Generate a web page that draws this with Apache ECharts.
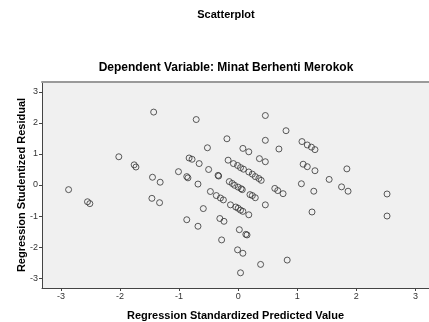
<!DOCTYPE html>
<html>
<head>
<meta charset="utf-8">
<script src="https://cdn.jsdelivr.net/npm/echarts@6/dist/echarts.min.js"></script>
<style>
  html, body { margin: 0; padding: 0; background: #fff; }
  #chart { width: 429px; height: 322px; }
</style>
</head>
<body>
<div id="chart"></div>
<script>
// standardized predicted value (x) and studentized residual (y)
const predicted = [
  -2.87, -2.55, -2.51, -2.02, -1.76, -1.73, -1.45, -1.43, -1.46, -1.33,
  -1.32, -1.01, -0.87, -0.85, -0.87, -0.83, -0.78, -0.71, -0.68, -0.68,
  -0.66, -0.59, -0.52, -0.50, -0.47, -0.37, -0.34, -0.33, -0.30, -0.25,
  -0.31, -0.24, -0.28, -0.19, -0.17, -0.08, -0.01, 0.04, 0.09, -0.15,
  -0.10, -0.06, 0.00, 0.05, 0.07, -0.13, -0.04, 0.00, 0.04, 0.08,
  0.18, 0.02, 0.13, 0.15, -0.01, 0.08, 0.04, 0.38, 0.08, 0.18,
  0.18, 0.24, 0.29, 0.35, 0.39, 0.20, 0.24, 0.29, 0.36, 0.46,
  0.46, 0.46, 0.46, 0.62, 0.67, 0.76, 0.69, 0.81, 0.83, 1.07,
  1.08, 1.17, 1.24, 1.30, 1.10, 1.17, 1.30, 1.28, 1.25, 1.54,
  1.75, 1.86, 1.84, 2.52, 2.52
];
const residual = [
  -0.15, -0.54, -0.60, 0.91, 0.65, 0.58, 0.25, 2.35, -0.43, -0.57,
  0.09, 0.43, 0.27, 0.23, -1.12, 0.87, 0.83, 2.11, 0.03, -1.33,
  0.69, -0.76, 1.20, 0.50, -0.21, -0.34, 0.31, 0.29, -0.42, -0.48,
  -1.08, -1.17, -1.77, 1.49, 0.80, 0.69, 0.63, 0.56, 0.51, 0.11,
  0.05, -0.01, -0.07, -0.12, -0.15, -0.64, -0.71, -0.75, -0.81, -0.85,
  -0.96, -1.44, -1.59, -1.61, -2.09, -2.20, -2.83, -2.56, 1.18, 1.07,
  0.42, 0.35, 0.27, 0.21, 0.15, -0.31, -0.34, -0.41, 0.85, 0.75,
  2.24, 1.44, -0.64, -0.11, -0.18, -0.28, 1.16, 1.75, -2.42, 0.04,
  1.40, 1.29, 1.22, 1.14, 0.67, 0.59, 0.46, -0.20, -0.87, 0.18,
  -0.06, -0.20, 0.52, -0.29, -1.00
];
const tickValues = [-3, -2, -1, 0, 1, 2, 3];

const points = predicted.map((x, i) => [x, residual[i]]);

const chart = echarts.init(document.getElementById('chart'));

const axisCommon = {
  type: 'value',
  splitLine: { show: false },
  axisLine: { show: true, onZero: false, lineStyle: { color: '#444', width: 1 } },
  axisTick: { show: true, length: 3, lineStyle: { color: '#444' }, customValues: tickValues },
  axisLabel: { fontSize: 9, color: '#333', fontFamily: 'Liberation Sans', margin: 4, customValues: tickValues },
  nameLocation: 'middle',
  nameTextStyle: { fontSize: 11, fontWeight: 'bold', color: '#000', fontFamily: 'Liberation Sans' },
};

chart.setOption({
  animation: false,
  title: [
    {
      text: 'Scatterplot',
      left: 221, top: 4, textAlign: 'center',
      textStyle: { fontSize: 11, fontWeight: 'bold', color: '#000', fontFamily: 'Liberation Sans' },
    },
    {
      text: 'Dependent Variable: Minat Berhenti Merokok',
      left: 221, top: 57, textAlign: 'center',
      textStyle: { fontSize: 12, fontWeight: 'bold', color: '#000', fontFamily: 'Liberation Sans' },
    },
  ],
  grid: {
    left: 42, right: 0, top: 82, bottom: 34,
    outerBoundsMode: 'none',
    show: true, backgroundColor: '#F0F0F0', borderWidth: 0,
  },
  xAxis: [
    {
      ...axisCommon,
      min: -3.32, max: 3.23,
      name: 'Regression Standardized Predicted Value',
      nameGap: 22,
    },
    {
      // grey frame line along the top of the plot
      type: 'value', position: 'top',
      min: -3.32, max: 3.23,
      axisLine: { show: true, onZero: false, lineStyle: { color: '#9A9A9A', width: 2 } },
      axisTick: { show: false }, axisLabel: { show: false }, splitLine: { show: false },
    },
  ],
  yAxis: {
    ...axisCommon,
    min: -3.32, max: 3.32,
    name: 'Regression Studentized Residual',
    nameGap: 15,
    nameMoveOverlap: false,
  },
  series: [{
    type: 'scatter',
    data: points,
    symbol: 'circle',
    symbolSize: 6,
    itemStyle: { color: 'rgba(0,0,0,0)', borderColor: '#333', borderWidth: 1 },
  }],
});
</script>
</body>
</html>
